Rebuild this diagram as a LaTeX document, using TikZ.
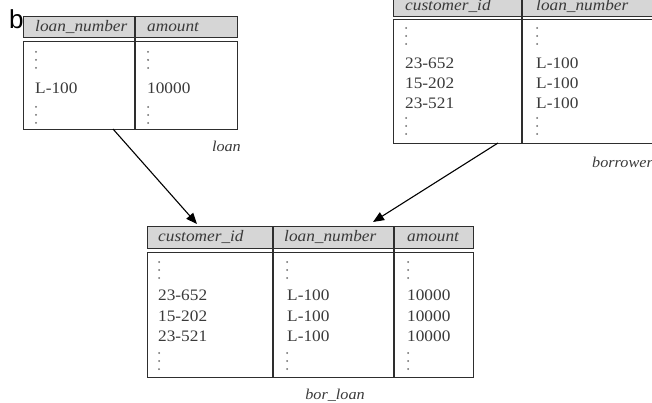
\documentclass[tikz,border=0pt]{standalone}
\usepackage{fontspec}
\setmainfont{Liberation Serif}[FakeStretch=1.08]
\newfontfamily\bfont{Liberation Sans}
\usetikzlibrary{arrows.meta,calc}
\definecolor{hdrfill}{HTML}{D6D6D6}
\definecolor{linec}{HTML}{2E2E2E}
\definecolor{txt}{HTML}{3A3A3A}
\definecolor{dotc}{HTML}{6A6A6A}
\newcommand{\vdt}[2]{\fill[dotc] (#1,#2) circle (1pt) (#1,#2+8) circle (1pt) (#1,#2+16) circle (1pt);}
\begin{document}
\begin{tikzpicture}[x=1pt,y=-1pt,
  hdr/.style={draw=linec,fill=hdrfill,line width=1.2pt,rectangle,inner sep=0pt,anchor=north west},
  bdy/.style={draw=linec,fill=white,line width=1.2pt,rectangle,inner sep=0pt,anchor=north west},
  divl/.style={draw=linec,line width=1.2pt},
  htext/.style={anchor=west,inner sep=0pt,font=\fontsize{16}{16}\selectfont\itshape,text=txt},
  cell/.style={anchor=west,inner sep=0pt,font=\fontsize{16}{16}\selectfont,text=txt},
  lbl/.style={inner sep=0pt,font=\fontsize{15}{15}\selectfont\itshape,text=txt},
  arr/.style={draw=black,line width=1.1pt,-{Triangle[length=11pt,width=9pt]}}
]
\useasboundingbox (0,0) rectangle (652,403);
\clip (0,0) rectangle (652,403);

% ---- loan ----
\node[hdr,minimum width=214pt,minimum height=21pt] (loanh) at (23,16) {};
\node[bdy,minimum width=214pt,minimum height=88pt] (loanb) at (23,41) {};
\draw[divl] (135,16) -- (135,129);
\node[htext] (lh1) at (35,27) {loan\_number};
\node[htext] (lh2) at (147,27) {amount};
\vdt{36}{52}
\vdt{148}{52}
\node[cell] (l1) at (35,88) {L-100};
\node[cell] (l2) at (147,88) {10000};
\vdt{36}{107}
\vdt{148}{107}
\node[lbl,anchor=east] (loanlbl) at (241,146) {loan};

% ---- borrower ----
\node[hdr,minimum width=280pt,minimum height=22pt] (borh) at (393,-6) {};
\node[bdy,minimum width=280pt,minimum height=124pt] (borb) at (393,19) {};
\draw[divl] (522,-6) -- (522,143);
\node[htext] (bh1) at (405,6) {customer\_id};
\node[htext] (bh2) at (536,6) {loan\_number};
\vdt{406}{28}
\vdt{537}{28}
\node[cell] (b11) at (405,63) {23-652};
\node[cell] (b21) at (405,83) {15-202};
\node[cell] (b31) at (405,103) {23-521};
\node[cell] (b12) at (536,63) {L-100};
\node[cell] (b22) at (536,83) {L-100};
\node[cell] (b32) at (536,103) {L-100};
\vdt{406}{118}
\vdt{537}{118}
\node[lbl,anchor=west] (borlbl) at (592,162) {borrower};

% ---- bor_loan ----
\node[hdr,minimum width=326pt,minimum height=22pt] (blh) at (147,226) {};
\node[bdy,minimum width=326pt,minimum height=125pt] (blb) at (147,252) {};
\draw[divl] (273,226) -- (273,377);
\draw[divl] (394,226) -- (394,377);
\node[htext] (blh1) at (158,237) {customer\_id};
\node[htext] (blh2) at (284,237) {loan\_number};
\node[htext] (blh3) at (407,237) {amount};
\vdt{159}{262}
\vdt{287}{262}
\vdt{408}{262}
\node[cell] (c11) at (158,295) {23-652};
\node[cell] (c21) at (158,316) {15-202};
\node[cell] (c31) at (158,336) {23-521};
\node[cell] (c12) at (287,295) {L-100};
\node[cell] (c22) at (287,316) {L-100};
\node[cell] (c32) at (287,336) {L-100};
\node[cell] (c13) at (407,295) {10000};
\node[cell] (c23) at (407,316) {10000};
\node[cell] (c33) at (407,336) {10000};
\vdt{159}{353}
\vdt{287}{353}
\vdt{408}{353}
\node[lbl] (bllbl) at (335,395) {bor\_loan};

% ---- arrows ----
\coordinate (s1) at (113,129);
\coordinate (e1) at (197,224);
\coordinate (s2) at (498,143);
\coordinate (e2) at (373,222);
\draw[arr] (s1) -- (e1);
\draw[arr] (s2) -- (e2);

% ---- b ----
\node[inner sep=0pt,anchor=base west,font=\bfont\fontsize{26}{26}\selectfont] (bmark) at (9,29) {b};
\end{tikzpicture}
\end{document}
